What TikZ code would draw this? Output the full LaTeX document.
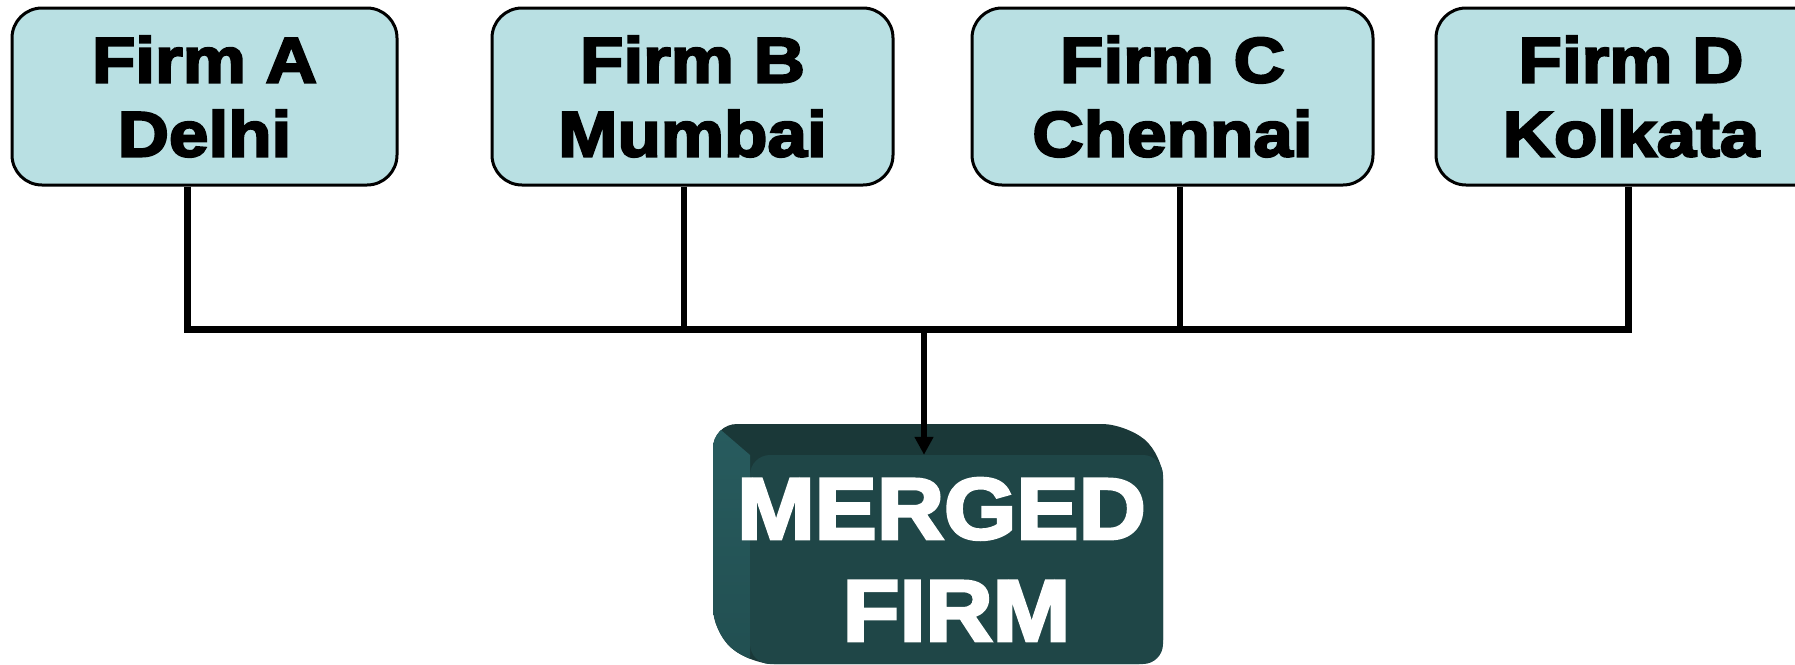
\documentclass[tikz,border=0pt]{standalone}
\usepackage{fontspec}
\setmainfont{Liberation Sans}
\newfontfamily\heavyfont[FakeBold=3.5, FakeStretch=1.11]{Liberation Sans Bold}
\newfontfamily\mergefont[FakeBold=3.5, FakeStretch=1.07]{Liberation Sans Bold}
\usetikzlibrary{arrows.meta}

\definecolor{firmfill}{RGB}{185,224,227}
\definecolor{mergefront}{RGB}{31,70,71}
\definecolor{mergetop}{RGB}{26,56,56}
\definecolor{mergeleftlight}{RGB}{40,92,95}
\definecolor{mergeleftdark}{RGB}{33,78,80}

\tikzset{
  firmbox/.style={draw=black, line width=3pt, fill=firmfill, rounded corners=30pt,
    minimum height=177pt, inner sep=0pt, align=center,
    font=\heavyfont\fontsize{64}{74}\selectfont},
  link/.style={line width=7pt, line cap=rect},
  mergebox/.style={fill=mergefront, rounded corners=20pt, minimum width=413pt,
    minimum height=209pt, inner sep=0pt, text width=413pt, align=center, text=white,
    font=\mergefont\fontsize{87}{102}\selectfont},
}

\begin{document}
\begin{tikzpicture}[x=1pt, y=-1pt]
\path[use as bounding box, clip] (0,0) rectangle (1795,664);
\fill[white] (0,0) rectangle (1795,664);

% the four firms
\node[firmbox, minimum width=385pt] (A) at (204.5,96.5)  {Firm A\\Delhi};
\node[firmbox, minimum width=401pt] (B) at (692.5,96.5)  {Firm B\\Mumbai};
\node[firmbox, minimum width=401pt] (C) at (1172.5,96.5) {Firm C\\Chennai};
\node[firmbox, minimum width=390pt] (D) at (1631,96.5)   {Firm D\\Kolkata};

% junctions on the collecting bar
\coordinate (jA) at (187.5,329.5);
\coordinate (jB) at (684,329.5);
\coordinate (jC) at (1180,329.5);
\coordinate (jD) at (1628.5,329.5);
\coordinate (jM) at (924,329.5);

% the merged firm: extruded block with top and left bevels
\begin{scope}
  \path[clip, rounded corners=24pt]
    (713,424) -- (1126,424) -- (1163,455) -- (1163,664) -- (750,664) -- (713,632) -- cycle;
  \fill[mergetop] (700,410) rectangle (1170,670);
  \shade[top color=mergeleftlight, bottom color=mergeleftdark]
    (700,412) -- (750,455) -- (750,680) -- (700,680) -- cycle;
\end{scope}
\node[mergebox] (M) at (956.5,559.5) {\hspace*{-30pt}MERGED\\FIRM};

% connectors
\draw[line width=6.5pt] (A.south -| jA) -- (jA);
\draw[line width=6.5pt] (B.south -| jB) -- (jB);
\draw[line width=6.5pt] (C.south -| jC) -- (jC);
\draw[line width=6.5pt] (D.south -| jD) -- (jD);
\draw[link] (jA) -- (jD);
\draw[line width=6pt, -{Triangle[width=18pt,length=18pt]}] (jM) -- (M.north -| jM);
\end{tikzpicture}
\end{document}
